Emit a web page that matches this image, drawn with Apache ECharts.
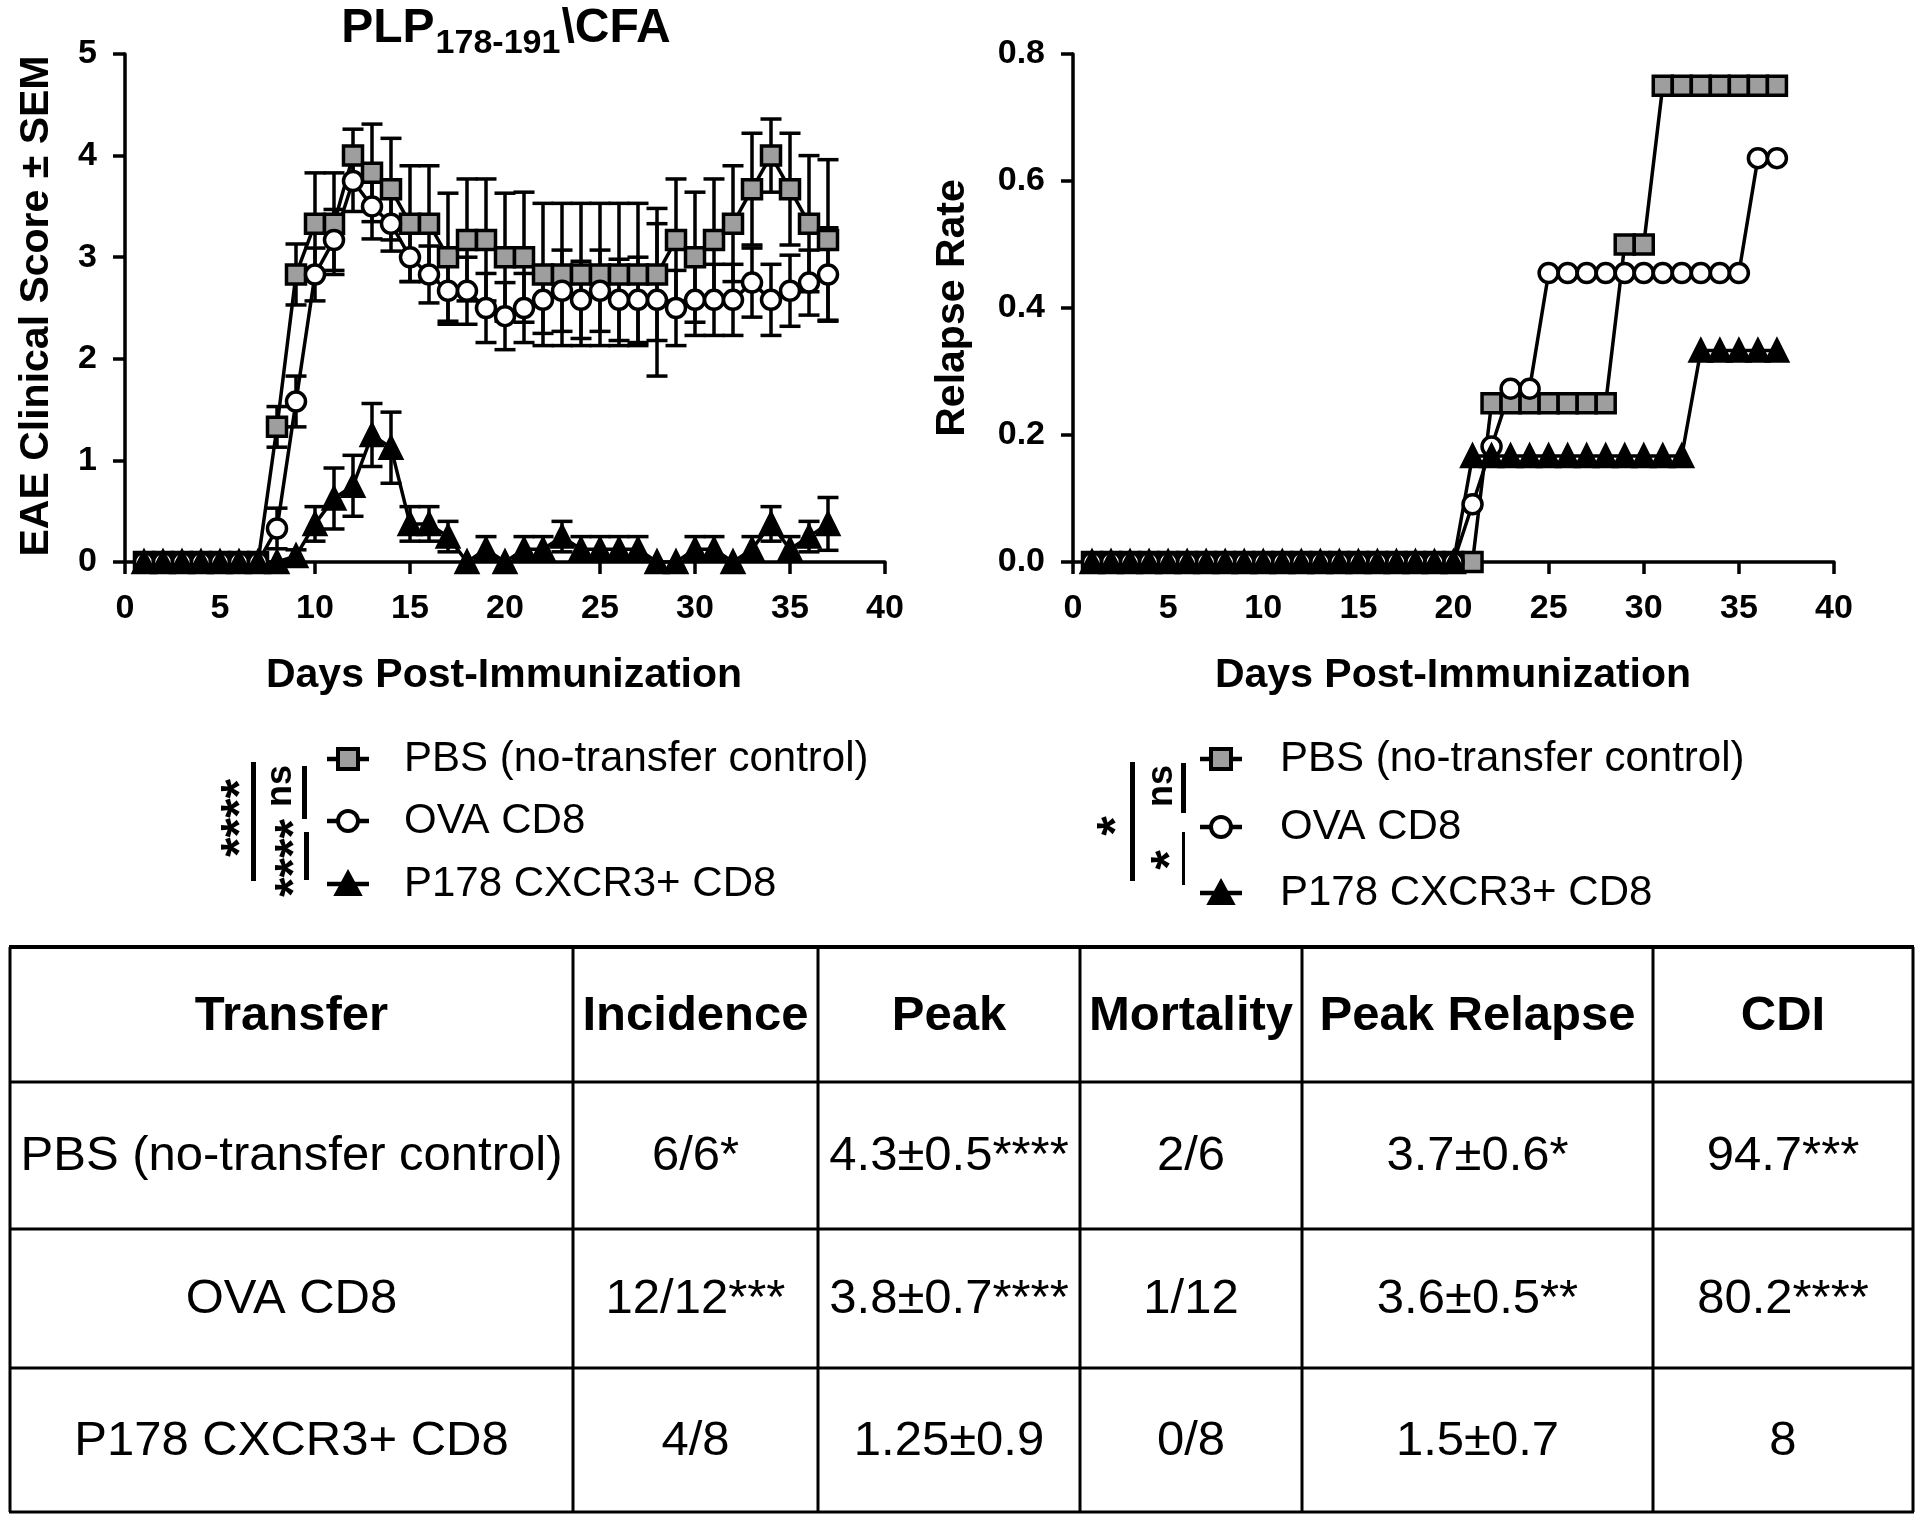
<!DOCTYPE html>
<html><head><meta charset="utf-8">
<script src="https://cdn.jsdelivr.net/npm/echarts@6/dist/echarts.min.js"></script>
<style>html,body{margin:0;padding:0;background:#fff}#c{width:1920px;height:1523px}</style>
</head><body><div id="c"></div>
<script>
// ---------------- DATA ----------------
const days = [1,2,3,4,5,6,7,8,9,10,11,12,13,14,15,16,17,18,19,20,21,22,23,24,25,26,27,28,29,30,31,32,33,34,35,36,37];
const groupNames = ['PBS (no-transfer control)', 'OVA CD8', 'P178 CXCR3+ CD8'];

// EAE clinical score (mean) and SEM
const pbsScore = [0,0,0,0,0,0,0,1.33,2.83,3.33,3.33,4.0,3.83,3.67,3.33,3.33,3.0,3.17,3.17,3.0,3.0,2.83,2.83,2.83,2.83,2.83,2.83,2.83,3.17,3.0,3.17,3.33,3.67,4.0,3.67,3.33,3.17];
const pbsSem   = [0,0,0,0,0,0,0,0.2,0.3,0.5,0.5,0.26,0.48,0.5,0.57,0.57,0.63,0.6,0.6,0.63,0.64,0.7,0.7,0.7,0.7,0.7,0.7,0.65,0.6,0.64,0.6,0.57,0.55,0.36,0.55,0.67,0.79];
const ovaScore = [0,0,0,0,0,0,0,0.33,1.58,2.83,3.17,3.75,3.5,3.33,3.0,2.83,2.67,2.67,2.5,2.42,2.5,2.58,2.67,2.58,2.67,2.58,2.58,2.58,2.5,2.58,2.58,2.58,2.75,2.58,2.67,2.75,2.83];
const ovaSem   = [0,0,0,0,0,0,0,0.2,0.25,0.26,0.3,0.3,0.32,0.27,0.24,0.28,0.33,0.33,0.34,0.33,0.34,0.33,0.4,0.38,0.4,0.4,0.42,0.75,0.37,0.35,0.35,0.35,0.34,0.35,0.35,0.32,0.46];
const p178Score = [0,0,0,0,0,0,0,0,0.06,0.375,0.625,0.75,1.25,1.125,0.375,0.375,0.25,0,0.125,0,0.125,0.125,0.25,0.125,0.125,0.125,0.125,0,0,0.125,0.125,0,0.125,0.375,0.125,0.25,0.375];
const p178Sem   = [0,0,0,0,0,0,0,0,0.06,0.17,0.3,0.3,0.31,0.35,0.17,0.17,0.15,0,0.125,0,0.125,0.125,0.15,0.125,0.125,0.125,0.125,0,0,0.125,0.125,0,0.125,0.17,0.125,0.15,0.26];

// Relapse rate
const pbsRelapse  = [0,0,0,0,0,0,0,0,0,0,0,0,0,0,0,0,0,0,0,0,0,0.25,0.25,0.25,0.25,0.25,0.25,0.25,0.5,0.5,0.75,0.75,0.75,0.75,0.75,0.75,0.75];
const ovaRelapse  = [0,0,0,0,0,0,0,0,0,0,0,0,0,0,0,0,0,0,0,0,0.091,0.182,0.273,0.273,0.455,0.455,0.455,0.455,0.455,0.455,0.455,0.455,0.455,0.455,0.455,0.636,0.636];
const p178Relapse = [0,0,0,0,0,0,0,0,0,0,0,0,0,0,0,0,0,0,0,0,0.167,0.167,0.167,0.167,0.167,0.167,0.167,0.167,0.167,0.167,0.167,0.167,0.333,0.333,0.333,0.333,0.333];

// Axis tick settings
const scoreTicks = {min:0, max:5, interval:1};
const relapseTicks = {min:0, max:0.8, interval:0.2};
const dayTicks = {min:0, max:40, interval:5};

// Significance labels
const sigLeft = {outer:'****', top:'ns', bottom:'****'};
const sigRight = {outer:'*', top:'ns', bottom:'*'};

// Table
const tableHeader = ['Transfer','Incidence','Peak','Mortality','Peak Relapse','CDI'];
const incidence   = ['6/6*','12/12***','4/8'];
const peak        = ['4.3±0.5****','3.8±0.7****','1.25±0.9'];
const mortality   = ['2/6','1/12','0/8'];
const peakRelapse = ['3.7±0.6*','3.6±0.5**','1.5±0.7'];
const cdi         = ['94.7***','80.2****','8'];

// ---------------- CHART ----------------
const FF = "'Liberation Sans', Arial, Helvetica, sans-serif";
const chart = echarts.init(document.getElementById('c'), null, {renderer:'canvas', width:1920, height:1523});
const LW = 3.5;

function xAxisCfg(gi){
  return {type:'value', gridIndex:gi, min:dayTicks.min, max:dayTicks.max, interval:dayTicks.interval,
    axisLine:{show:true,onZero:false,lineStyle:{color:'#000',width:LW}},
    axisTick:{show:true,length:12,lineStyle:{color:'#000',width:LW}},
    axisLabel:{color:'#000',fontFamily:FF,fontWeight:'bold',fontSize:34,margin:30},
    splitLine:{show:false}};
}
function yAxisCfg(gi, t, fmt){
  return {type:'value', gridIndex:gi, min:t.min, max:t.max, interval:t.interval,
    axisLine:{show:true,onZero:false,lineStyle:{color:'#000',width:LW}},
    axisTick:{show:true,length:12,lineStyle:{color:'#000',width:LW}},
    axisLabel:{color:'#000',fontFamily:FF,fontWeight:'bold',fontSize:34,margin:28,formatter:fmt},
    splitLine:{show:false}};
}
function lineSeries(name, vals, gi, symbol, size, fill){
  return {type:'line', name, xAxisIndex:gi, yAxisIndex:gi,
    data: days.map((d,i)=>[d, vals[i]]),
    symbol, symbolSize:size, showSymbol:true, showAllSymbol:true,
    lineStyle:{color:'#000',width:LW},
    itemStyle:{color:fill,borderColor:'#000',borderWidth:3.5},
    emphasis:{disabled:true}, silent:true, animation:false, z:2};
}
function errSeries(vals, sems, gi){
  return {type:'custom', xAxisIndex:gi, yAxisIndex:gi, encode:{x:0,y:1},
    data: days.map((d,i)=>[d, vals[i], sems[i]]),
    renderItem:(params, api)=>{
      const x=api.value(0), v=api.value(1), e=api.value(2);
      if(!e) return null;
      const top=api.coord([x, v+e]);
      const lowV = v-e;
      const bot=api.coord([x, Math.max(0, lowV)]);
      const hw=10.5, st={stroke:'#000', lineWidth:LW};
      const ch=[
        {type:'line', shape:{x1:top[0],y1:top[1],x2:bot[0],y2:bot[1]}, style:st},
        {type:'line', shape:{x1:top[0]-hw,y1:top[1],x2:top[0]+hw,y2:top[1]}, style:st}];
      if(lowV>0) ch.push({type:'line', shape:{x1:bot[0]-hw,y1:bot[1],x2:bot[0]+hw,y2:bot[1]}, style:st});
      return {type:'group', children:ch};
    },
    silent:true, animation:false, z:2};
}

// measure helper
const mctx = document.createElement('canvas').getContext('2d');
function tw(text, font){ mctx.font = font; return mctx.measureText(text).width; }

const graphics = [];
function txt(x, y, text, font, opts){
  opts = opts || {};
  graphics.push({type:'text', x, y, rotation: opts.rot||0, silent:true,
    style:{text, font, fill:'#000', align: opts.align||'center', verticalAlign: opts.va||'middle'}});
}
function ln(x1,y1,x2,y2,w){
  graphics.push({type:'line', silent:true, shape:{x1,y1,x2,y2}, style:{stroke:'#000', lineWidth:w||3}});
}

// Title with subscript
(function(){
  const fMain = 'bold 48px ' + FF, fSub = 'bold 34px ' + FF;
  const a='PLP', b='178-191', c='\\CFA';
  const wa=tw(a,fMain), wb=tw(b,fSub), wc=tw(c,fMain);
  const total = wa+wb+wc; let x0 = 505 - total/2; const y=29;
  txt(x0, y, a, fMain, {align:'left'});
  txt(x0+wa+1, y+15, b, fSub, {align:'left'});
  txt(x0+wa+wb+2, y, c, fMain, {align:'left'});
})();

// Axis titles
txt(504, 676, 'Days Post-Immunization', 'bold 41px ' + FF);
txt(1453, 676, 'Days Post-Immunization', 'bold 41px ' + FF);
txt(37, 306, 'EAE Clinical Score ± SEM', 'bold 41px ' + FF, {rot:Math.PI/2});
txt(953, 308, 'Relapse Rate', 'bold 41px ' + FF, {rot:Math.PI/2});

// Legends
function legendSym(cx, cy, kind){
  graphics.push({type:'line', silent:true, shape:{x1:cx-21,y1:cy,x2:cx+21,y2:cy}, style:{stroke:'#000',lineWidth:4.5}});
  if(kind==='square') graphics.push({type:'rect', silent:true, shape:{x:cx-10,y:cy-10,width:20,height:20}, style:{fill:'#9e9e9e',stroke:'#000',lineWidth:4}});
  if(kind==='circle') graphics.push({type:'circle', silent:true, shape:{cx,cy,r:10}, style:{fill:'#fff',stroke:'#000',lineWidth:4}});
  if(kind==='triangle') graphics.push({type:'polygon', silent:true, shape:{points:[[cx,cy-13],[cx+13,cy+11],[cx-13,cy+11]]}, style:{fill:'#000',stroke:'#000',lineWidth:2}});
}
const kinds = ['square','circle','triangle'];
const legFont = '42px ' + FF;
const legLY = [759, 821, 884], legRY = [759, 827, 893];
for(let i=0;i<3;i++){
  legendSym(348, legLY[i], kinds[i]); txt(404, legLY[i], groupNames[i], legFont, {align:'left'});
  legendSym(1221, legRY[i], kinds[i]); txt(1280, legRY[i], groupNames[i], legFont, {align:'left'});
}
// significance brackets (left)
graphics.push({type:'rect', silent:true, shape:{x:251,y:762,width:5,height:119}, style:{fill:'#000'}});
graphics.push({type:'rect', silent:true, shape:{x:302,y:766,width:5,height:53}, style:{fill:'#000'}});
graphics.push({type:'rect', silent:true, shape:{x:304,y:832,width:5,height:48}, style:{fill:'#000'}});
txt(242, 818, sigLeft.outer, 'bold 50px ' + FF, {rot:Math.PI/2});
txt(281, 786, sigLeft.top, 'bold 36px ' + FF, {rot:Math.PI/2});
txt(296, 858, sigLeft.bottom, 'bold 50px ' + FF, {rot:Math.PI/2});
// significance brackets (right)
graphics.push({type:'rect', silent:true, shape:{x:1130,y:762,width:5,height:119}, style:{fill:'#000'}});
graphics.push({type:'rect', silent:true, shape:{x:1181,y:763,width:5,height:50}, style:{fill:'#000'}});
graphics.push({type:'rect', silent:true, shape:{x:1182,y:832,width:3,height:53}, style:{fill:'#000'}});
txt(1118, 826, sigRight.outer, 'bold 50px ' + FF, {rot:Math.PI/2});
txt(1162, 786, sigRight.top, 'bold 36px ' + FF, {rot:Math.PI/2});
txt(1172, 860, sigRight.bottom, 'bold 50px ' + FF, {rot:Math.PI/2});

// Table
const colX = [10, 573, 818, 1080, 1302, 1653, 1913];
const rowY = [947, 1082, 1229, 1368, 1512];
rowY.forEach((y,i)=> ln(colX[0]-1, y, colX[6]+1, y, i===0?4:3));
colX.forEach(x=> ln(x, rowY[0], x, rowY[4], 3));
const colC = colX.slice(0,6).map((x,i)=> (x+colX[i+1])/2);
const rowC = rowY.slice(0,4).map((y,i)=> (y+rowY[i+1])/2);
tableHeader.forEach((h,i)=> txt(colC[i], rowC[0]+2, h, 'bold 49px ' + FF));
const bodyCols = [groupNames, incidence, peak, mortality, peakRelapse, cdi];
for(let r=0;r<3;r++) for(let c=0;c<6;c++) txt(colC[c], rowC[r+1]+1, bodyCols[c][r], '49px ' + FF);

const option = {
  backgroundColor:'#fff', animation:false,
  grid:[{left:125, top:54, width:760, height:508}, {left:1073, top:54, width:761, height:508}],
  xAxis:[xAxisCfg(0), xAxisCfg(1)],
  yAxis:[yAxisCfg(0, scoreTicks), yAxisCfg(1, relapseTicks, v=>v.toFixed(1))],
  series:[
    errSeries(pbsScore, pbsSem, 0),
    lineSeries('PBS', pbsScore, 0, 'rect', 19, '#9e9e9e'),
    errSeries(ovaScore, ovaSem, 0),
    lineSeries('OVA', ovaScore, 0, 'circle', 19, '#fff'),
    errSeries(p178Score, p178Sem, 0),
    lineSeries('P178', p178Score, 0, 'triangle', 21, '#000'),
    lineSeries('PBS', pbsRelapse, 1, 'rect', 19, '#9e9e9e'),
    lineSeries('OVA', ovaRelapse, 1, 'circle', 19, '#fff'),
    lineSeries('P178', p178Relapse, 1, 'triangle', 21, '#000')
  ],
  graphic: graphics
};
chart.setOption(option);
</script>
</body></html>
